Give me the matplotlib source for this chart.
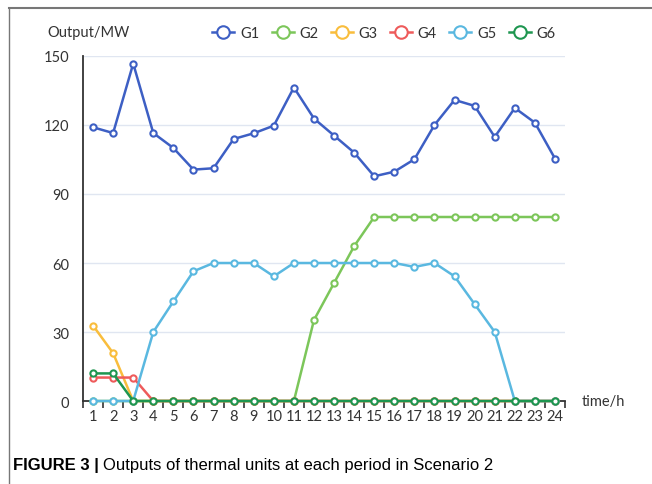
import numpy as np
import matplotlib
matplotlib.use("Agg")
import matplotlib.pyplot as plt
from matplotlib.lines import Line2D

# hours 1..24
hours = np.arange(1, 25)

g1 = [119, 116.5, 146.7, 116.5, 110, 100.6, 101.2, 113.9, 116.4, 119.7, 136.3, 122.8,
      115.4, 108, 97.7, 99.7, 105.1, 120, 130.9, 128.3, 114.8, 127.4, 121, 105.4]
g2 = [0, 0, 0, 0, 0, 0, 0, 0, 0, 0, 0, 35.2, 51.3, 67.3, 80, 80, 80, 80, 80, 80, 80, 80, 80, 80]
g3 = [32.8, 20.8] + [0] * 22
g4 = [10.2, 10.2, 10.2] + [0] * 21
g5 = [0, 0, 0, 30, 43.3, 56.4, 60, 60, 60, 54.2, 60, 60, 60, 60, 60, 60, 58.3, 60,
      54.2, 42.1, 30, 0, 0, 0]
g6 = [12, 12] + [0] * 22

series = [("G1", g1, "#3d5fc4"), ("G2", g2, "#7cc65a"), ("G3", g3, "#f9bd3c"),
          ("G4", g4, "#ee5b5b"), ("G5", g5, "#5ab8e0"), ("G6", g6, "#1e9650")]

plt.rcParams['font.family'] = ['Lato', 'DejaVu Sans']

fig = plt.figure(figsize=(6.52, 4.85), dpi=100)
ax = fig.add_axes([0.1273, 0.1711, 0.8666 - 0.1273, 0.8825 - 0.1711])

for name, vals, col in series:
    ax.plot(hours, vals, color=col, lw=1.8, marker='o', ms=4.5, mfc='white',
            mec=col, mew=1.5, label=name, clip_on=False, zorder=3)

ax.set_xlim(0.5, 24.5)
ax.set_ylim(0, 150)
ax.set_yticks([0, 30, 60, 90, 120, 150])
ax.set_xticks(hours)
ax.set_xticks(np.arange(0.5, 25, 1), minor=True)
ax.tick_params(axis='x', which='major', length=0, pad=6, labelsize=10.5, colors='#333333')
ax.tick_params(axis='x', which='minor', length=5, width=1.2, color='#333333')
ax.tick_params(axis='y', length=0, pad=10, labelsize=10.5, colors='#333333')
ax.grid(axis='y', color='#e0e6f1', lw=1)
ax.set_axisbelow(True)
for s in ['top', 'right']:
    ax.spines[s].set_visible(False)
ax.spines['left'].set_color('#333333')
ax.spines['left'].set_linewidth(1.3)
ax.spines['bottom'].set_color('#333333')
ax.spines['bottom'].set_linewidth(1.3)

handles = [Line2D([], [], color=c, lw=1.8, marker='o', ms=9, mfc='white', mec=c, mew=1.5)
           for _, _, c in series]
fig.legend(handles, [n for n, _, _ in series], loc='center', bbox_to_anchor=(0.589, 1 - 34 / 485),
           ncol=6, frameon=False, fontsize=10.5, handlelength=1.5, handletextpad=0.4,
           columnspacing=0.85, labelcolor='#333333')

fig.text(47 / 652, 1 - 33 / 485, "Output/MW", fontsize=10.5, color='#333333', va='center')
fig.text(582 / 652, 1 - 402 / 485, "time/h", fontsize=10.5, color='#333333', va='center')

# frame lines around the figure panel
fig.add_artist(Line2D([9 / 652, 1], [1 - 9 / 485, 1 - 9 / 485], color='#777777', lw=1.5))
fig.add_artist(Line2D([9 / 652, 9 / 652], [0, 1 - 9 / 485], color='#777777', lw=1.0))

# caption
cap_y = 1 - 466 / 485
t1 = fig.text(13 / 652, cap_y, "FIGURE 3 |", fontsize=12, fontweight='bold',
              family='Liberation Sans', va='center')
fig.canvas.draw()
bb = t1.get_window_extent(fig.canvas.get_renderer())
fig.text((bb.x1 + 4) / 652, cap_y, "Outputs of thermal units at each period in Scenario 2",
         fontsize=12, family='Liberation Sans', va='center')

fig.savefig("out.png", dpi=100)
